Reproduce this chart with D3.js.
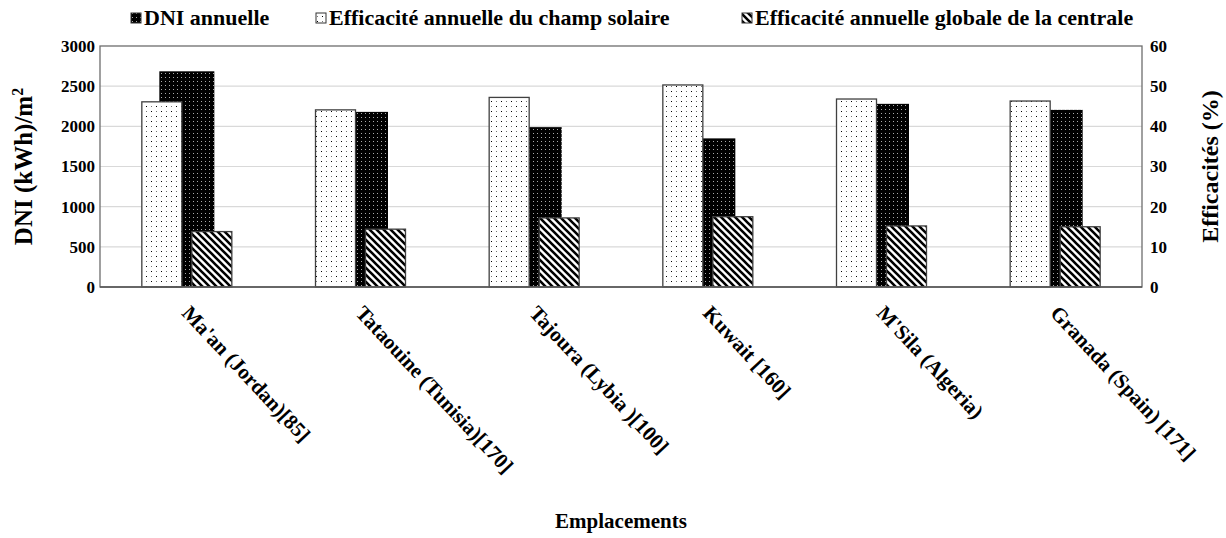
<!DOCTYPE html>
<html><head><meta charset="utf-8">
<script src="https://cdn.jsdelivr.net/npm/d3@7"></script>
<style>body{margin:0;background:#fff}svg{display:block}</style>
</head><body><svg id="c" width="1226" height="538"></svg>
<script>
const categories = ["Ma'an (Jordan)[85]", "Tataouine (Tunisia)[170]", "Tajoura (Lybia )[100]", "Kuwait [160]", "M'Sila (Algeria)", "Granada (Spain) [171]"];
const dniValues = [2685, 2180, 1990, 1850, 2280, 2205];
const fieldEff = [46.1, 44.1, 47.2, 50.3, 46.8, 46.3];
const globalEff = [13.8, 14.4, 17.2, 17.5, 15.2, 15.0];
const leftTicks = [0, 500, 1000, 1500, 2000, 2500, 3000];
const rightTicks = [0, 10, 20, 30, 40, 50, 60];
const seriesNames = ["DNI annuelle", "Efficacité annuelle du champ solaire", "Efficacité annuelle globale de la centrale"];

const FONT = "'Liberation Serif','Times New Roman',serif";
const svg = d3.select("#c");
const L = 100, R = 1142, T = 46, B = 287;

const defs = svg.append("defs");
const p1 = defs.append("pattern").attr("id", "pDni").attr("patternUnits", "userSpaceOnUse").attr("width", 4).attr("height", 4);
p1.append("rect").attr("width", 4).attr("height", 4).attr("fill", "#000");
p1.append("rect").attr("x", 1).attr("y", 1).attr("width", 1).attr("height", 1).attr("fill", "#aaa");
const p2 = defs.append("pattern").attr("id", "pField").attr("patternUnits", "userSpaceOnUse").attr("width", 10).attr("height", 10);
p2.append("rect").attr("width", 10).attr("height", 10).attr("fill", "#fff");
p2.append("rect").attr("x", 1).attr("y", 1).attr("width", 1).attr("height", 1).attr("fill", "#000");
p2.append("rect").attr("x", 6).attr("y", 6).attr("width", 1).attr("height", 1).attr("fill", "#000");
p2.append("rect").attr("x", 6).attr("y", 1).attr("width", 1).attr("height", 1).attr("fill", "#777");
p2.append("rect").attr("x", 1).attr("y", 6).attr("width", 1).attr("height", 1).attr("fill", "#777");
const p3 = defs.append("pattern").attr("id", "pGlob").attr("patternUnits", "userSpaceOnUse").attr("width", 7).attr("height", 7);
p3.append("rect").attr("width", 7).attr("height", 7).attr("fill", "#fff");
p3.append("path").attr("d", "M-1,-1 L8,8 M-1,6 L1,8 M6,-1 L8,1").attr("stroke", "#000").attr("stroke-width", 2.6);

const x = d3.scaleBand().domain(categories).range([L, R]).padding(0);
const yL = d3.scaleLinear().domain([0, 3000]).range([B, T]);
const yR = d3.scaleLinear().domain([0, 60]).range([B, T]);
const sub = d3.scaleBand().domain([0, 1]).range([-45, 45]).paddingInner(0.2).paddingOuter(0);
const dniW = 55;

svg.append("g").selectAll("line").data(leftTicks.slice(1, -1)).join("line")
  .attr("x1", L).attr("x2", R).attr("y1", d => yL(d)).attr("y2", d => yL(d))
  .attr("stroke", "#d9d9d9").attr("stroke-width", 1.2);

svg.append("g").selectAll("rect").data(categories).join("rect")
  .attr("x", d => x(d) + x.bandwidth() / 2 - dniW / 2)
  .attr("y", (d, i) => yL(dniValues[i]))
  .attr("width", dniW)
  .attr("height", (d, i) => B - yL(dniValues[i]))
  .attr("fill", "url(#pDni)");

const effSeries = [fieldEff, globalEff];
const pats = ["url(#pField)", "url(#pGlob)"];
effSeries.forEach((vals, s) => {
  svg.append("g").selectAll("rect").data(categories).join("rect")
    .attr("x", d => x(d) + x.bandwidth() / 2 + sub(s))
    .attr("y", (d, i) => yR(vals[i]))
    .attr("width", sub.bandwidth())
    .attr("height", (d, i) => B - yR(vals[i]))
    .attr("fill", pats[s]).attr("stroke", "#404040").attr("stroke-width", 1.3);
});

svg.append("rect").attr("x", L).attr("y", T).attr("width", R - L).attr("height", B - T)
  .attr("fill", "none").attr("stroke", "#6d6d6d").attr("stroke-width", 1.3);
svg.append("line").attr("x1", L).attr("x2", R).attr("y1", B).attr("y2", B).attr("stroke", "#555").attr("stroke-width", 1.5);

const axL = svg.append("g").attr("transform", `translate(${L},0)`)
  .call(d3.axisLeft(yL).tickValues(leftTicks).tickFormat(d3.format("d")).tickSize(0).tickPadding(5));
const axR = svg.append("g").attr("transform", `translate(${R},0)`)
  .call(d3.axisRight(yR).tickValues(rightTicks).tickFormat(d3.format("d")).tickSize(0).tickPadding(8));
[axL, axR].forEach(a => {
  a.select(".domain").remove();
  a.selectAll("text").attr("font-family", FONT).attr("font-weight", "bold").attr("font-size", 17).attr("fill", "#000");
});

svg.append("g").selectAll("text").data(categories).join("text")
  .attr("transform", d => `translate(${x(d) + x.bandwidth() / 2 - 6},314) rotate(47)`)
  .attr("font-family", FONT).attr("font-weight", "bold").attr("font-size", 21)
  .text(d => d);

svg.append("text").attr("transform", `translate(32,${(T + B) / 2}) rotate(-90)`)
  .attr("text-anchor", "middle").attr("font-family", FONT).attr("font-weight", "bold").attr("font-size", 25)
  .html("DNI (kWh)/m<tspan dy='-9' font-size='16'>2</tspan>");
svg.append("text").attr("transform", `translate(1218,${(T + B) / 2}) rotate(-90)`)
  .attr("text-anchor", "middle").attr("font-family", FONT).attr("font-weight", "bold").attr("font-size", 24)
  .text("Efficacités (%)");
svg.append("text").attr("x", (L + R) / 2).attr("y", 528).attr("text-anchor", "middle")
  .attr("font-family", FONT).attr("font-weight", "bold").attr("font-size", 21).text("Emplacements");

const legX = [131, 316, 742];
const legPats = ["url(#pDni)", "url(#pField)", "url(#pGlob)"];
const lg = svg.append("g").selectAll("g").data(seriesNames).join("g")
  .attr("transform", (d, i) => `translate(${legX[i]},0)`);
lg.append("rect").attr("x", 0).attr("y", 13).attr("width", 10).attr("height", 10)
  .attr("fill", (d, i) => legPats[i]).attr("stroke", "#333").attr("stroke-width", 1);
lg.append("text").attr("x", 13).attr("y", 25).attr("font-family", FONT).attr("font-weight", "bold").attr("font-size", 22)
  .text(d => d);
</script></body></html>
